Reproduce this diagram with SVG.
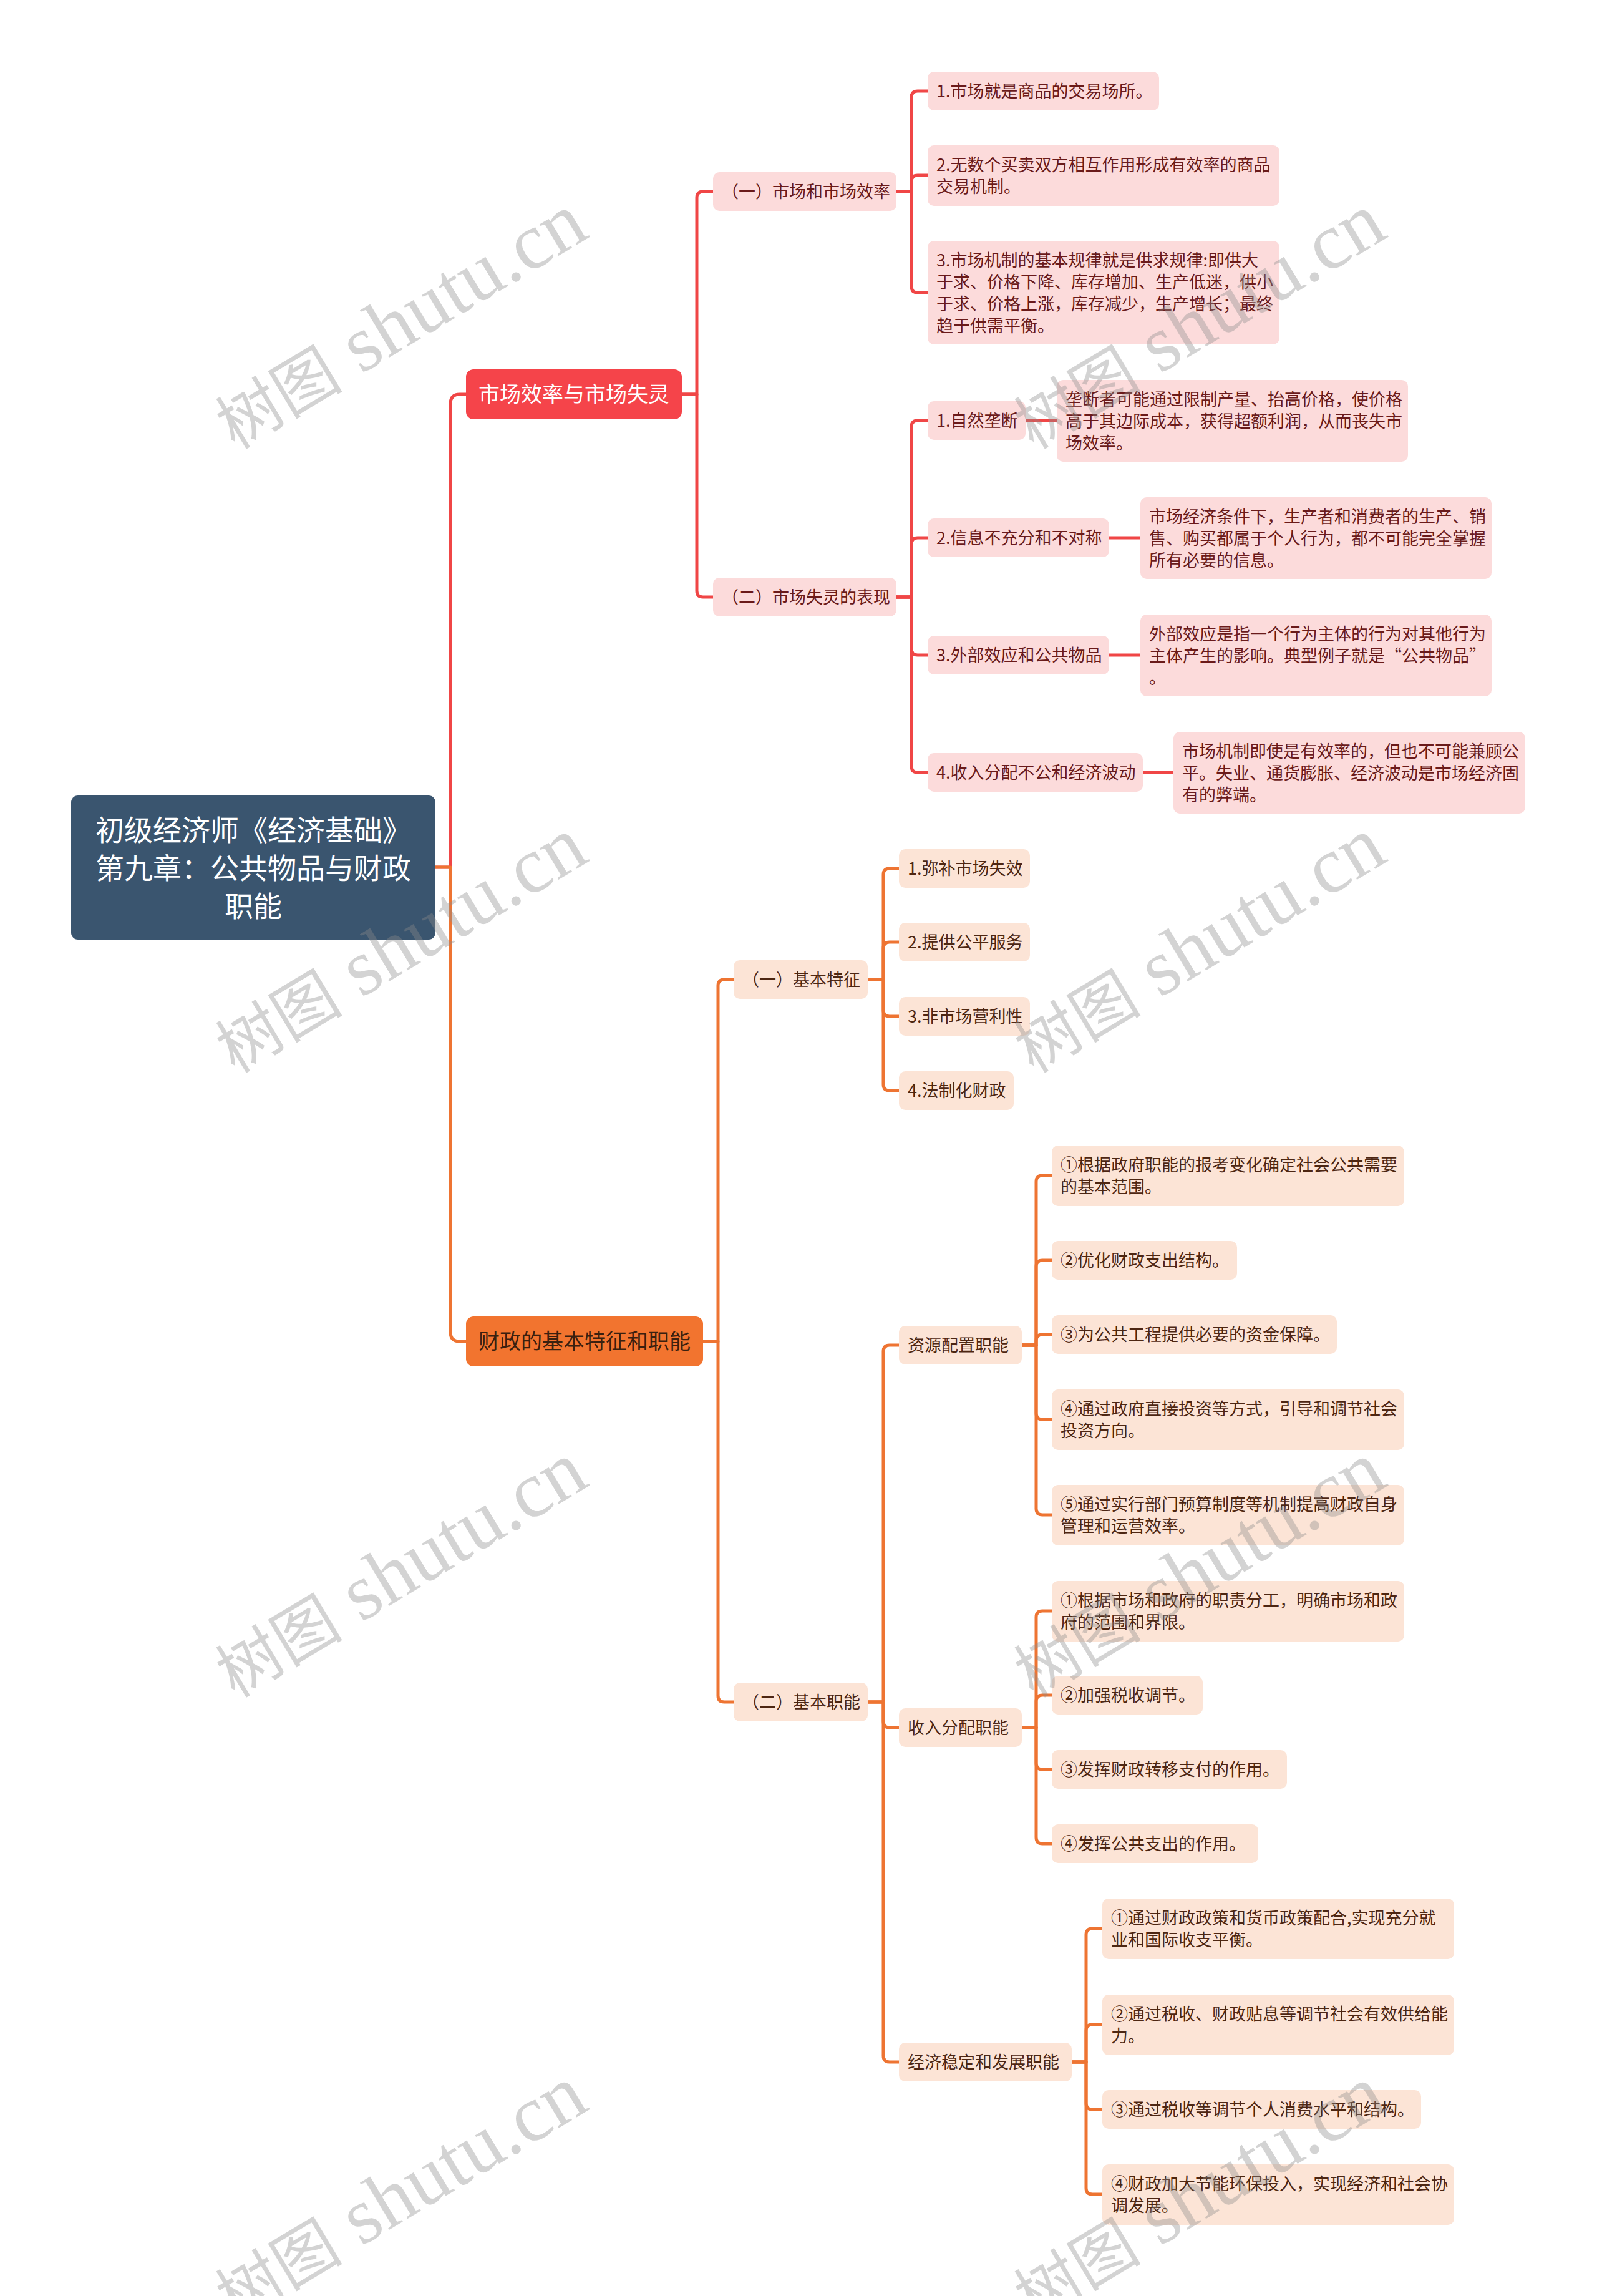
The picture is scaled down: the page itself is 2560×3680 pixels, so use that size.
<svg xmlns="http://www.w3.org/2000/svg" width="2560" height="3680" viewBox="0 0 2560 3680">
<style>
text{font-family:"Noto Sans CJK SC","Noto Sans",sans-serif}
.rc{fill:none;stroke:#F04646;stroke-width:5;stroke-linecap:round;stroke-linejoin:round}
.oc{fill:none;stroke:#EE7432;stroke-width:5;stroke-linecap:round;stroke-linejoin:round}
.main rect{fill:#3A556F}
.main text{fill:#ffffff;font-size:46px;text-anchor:middle}
.r1 rect{fill:#F5444A}
.r1 text{fill:#ffffff;font-size:34px;text-anchor:middle}
.o1 rect{fill:#F2742F}
.o1 text{fill:#3A200F;font-size:34px;text-anchor:middle}
.rl rect{fill:#FCDBDB}
.rl text{fill:#6A1A1A;font-size:27px}
.ol rect{fill:#FCE4D6}
.ol text{fill:#4D2612;font-size:27px}
.wm text{font-family:"Liberation Serif","Noto Sans CJK SC",serif;font-size:128px;fill:#8c8c8c;fill-opacity:0.38;text-anchor:middle}
.wm .cj{font-size:102px}
</style>
<rect width="2560" height="3680" fill="#ffffff"/>
<g id="connectors">
<path class="rc" d="M698,1390 H722 V647 Q722,632 737,632 H747"/>
<path class="oc" d="M698,1390 H722 V2135 Q722,2150 737,2150 H747"/>
<path class="rc" d="M1093,632 H1117 V317 Q1117,307 1127,307 H1143"/>
<path class="rc" d="M1093,632 H1117 V947 Q1117,957 1127,957 H1143"/>
<path class="rc" d="M1437,307 H1461 V156 Q1461,146 1471,146 H1487"/>
<path class="rc" d="M1437,307 H1461 V291 Q1461,281 1471,281 H1487"/>
<path class="rc" d="M1437,307 H1461 V459 Q1461,469 1471,469 H1487"/>
<path class="rc" d="M1437,957 H1461 V684 Q1461,674 1471,674 H1487"/>
<path class="rc" d="M1437,957 H1461 V872 Q1461,862 1471,862 H1487"/>
<path class="rc" d="M1437,957 H1461 V1040 Q1461,1050 1471,1050 H1487"/>
<path class="rc" d="M1437,957 H1461 V1228 Q1461,1238 1471,1238 H1487"/>
<path class="rc" d="M1644,674 H1694"/>
<path class="rc" d="M1778,862 H1828"/>
<path class="rc" d="M1778,1050 H1828"/>
<path class="rc" d="M1832,1238 H1881"/>
<path class="oc" d="M1127,2150 H1151 V1580 Q1151,1570 1161,1570 H1176"/>
<path class="oc" d="M1127,2150 H1151 V2718 Q1151,2728 1161,2728 H1176"/>
<path class="oc" d="M1391,1570 H1416 V1402 Q1416,1392 1426,1392 H1441"/>
<path class="oc" d="M1391,1570 H1416 V1520 Q1416,1510 1426,1510 H1441"/>
<path class="oc" d="M1391,1570 H1416 V1619 Q1416,1629 1426,1629 H1441"/>
<path class="oc" d="M1391,1570 H1416 V1738 Q1416,1748 1426,1748 H1441"/>
<path class="oc" d="M1391,2728 H1416 V2166 Q1416,2156 1426,2156 H1441"/>
<path class="oc" d="M1391,2728 H1416 V2759 Q1416,2769 1426,2769 H1441"/>
<path class="oc" d="M1391,2728 H1416 V3295 Q1416,3305 1426,3305 H1441"/>
<path class="oc" d="M1638,2156 H1661 V1894 Q1661,1884 1671,1884 H1686"/>
<path class="oc" d="M1638,2156 H1661 V2030 Q1661,2020 1671,2020 H1686"/>
<path class="oc" d="M1638,2156 H1661 V2149 Q1661,2139 1671,2139 H1686"/>
<path class="oc" d="M1638,2156 H1661 V2265 Q1661,2275 1671,2275 H1686"/>
<path class="oc" d="M1638,2156 H1661 V2418 Q1661,2428 1671,2428 H1686"/>
<path class="oc" d="M1638,2769 H1661 V2592 Q1661,2582 1671,2582 H1686"/>
<path class="oc" d="M1638,2769 H1661 V2727 Q1661,2717 1671,2717 H1686"/>
<path class="oc" d="M1638,2769 H1661 V2826 Q1661,2836 1671,2836 H1686"/>
<path class="oc" d="M1638,2769 H1661 V2945 Q1661,2955 1671,2955 H1686"/>
<path class="oc" d="M1718,3305 H1741 V3101 Q1741,3091 1751,3091 H1767"/>
<path class="oc" d="M1718,3305 H1741 V3255 Q1741,3245 1751,3245 H1767"/>
<path class="oc" d="M1718,3305 H1741 V3371 Q1741,3381 1751,3381 H1767"/>
<path class="oc" d="M1718,3305 H1741 V3507 Q1741,3517 1751,3517 H1767"/>
</g>
<g id="root" class="main">
<rect x="114" y="1275" width="584" height="231" rx="11"/>
<text x="406" y="1347">初级经济师《经济基础》</text>
<text x="406" y="1408">第九章：公共物品与财政</text>
<text x="406" y="1469">职能</text>
</g>
<g id="n-market" class="r1">
<rect x="747" y="592" width="346" height="80" rx="12"/>
<text x="920" y="644">市场效率与市场失灵</text>
</g>
<g id="n-finance" class="o1">
<rect x="747" y="2110" width="380" height="80" rx="12"/>
<text x="937" y="2162">财政的基本特征和职能</text>
</g>
<g id="n-r-a" class="rl">
<rect x="1143" y="276" width="294" height="62" rx="10"/>
<text x="1157" y="317">（一）市场和市场效率</text>
</g>
<g id="n-r-b" class="rl">
<rect x="1143" y="926" width="294" height="62" rx="10"/>
<text x="1157" y="967">（二）市场失灵的表现</text>
</g>
<g id="n-r-a1" class="rl">
<rect x="1487" y="115" width="371" height="62" rx="10"/>
<text x="1501" y="156">1.市场就是商品的交易场所。</text>
</g>
<g id="n-r-a2" class="rl">
<rect x="1487" y="233" width="564" height="97" rx="10"/>
<text x="1501" y="274">2.无数个买卖双方相互作用形成有效率的商品</text>
<text x="1501" y="309">交易机制。</text>
</g>
<g id="n-r-a3" class="rl">
<rect x="1487" y="386" width="564" height="166" rx="10"/>
<text x="1501" y="427">3.市场机制的基本规律就是供求规律:即供大</text>
<text x="1501" y="462">于求、价格下降、库存增加、生产低迷，供小</text>
<text x="1501" y="497">于求、价格上涨，库存减少，生产增长；最终</text>
<text x="1501" y="532">趋于供需平衡。</text>
</g>
<g id="n-r-b1" class="rl">
<rect x="1487" y="643" width="157" height="62" rx="10"/>
<text x="1501" y="684">1.自然垄断</text>
</g>
<g id="n-r-b1d" class="rl">
<rect x="1694" y="609" width="563" height="131" rx="10"/>
<text x="1708" y="650">垄断者可能通过限制产量、抬高价格，使价格</text>
<text x="1708" y="685">高于其边际成本，获得超额利润，从而丧失市</text>
<text x="1708" y="720">场效率。</text>
</g>
<g id="n-r-b2" class="rl">
<rect x="1487" y="831" width="291" height="62" rx="10"/>
<text x="1501" y="872">2.信息不充分和不对称</text>
</g>
<g id="n-r-b2d" class="rl">
<rect x="1828" y="797" width="563" height="131" rx="10"/>
<text x="1842" y="838">市场经济条件下，生产者和消费者的生产、销</text>
<text x="1842" y="873">售、购买都属于个人行为，都不可能完全掌握</text>
<text x="1842" y="908">所有必要的信息。</text>
</g>
<g id="n-r-b3" class="rl">
<rect x="1487" y="1019" width="291" height="62" rx="10"/>
<text x="1501" y="1060">3.外部效应和公共物品</text>
</g>
<g id="n-r-b3d" class="rl">
<rect x="1828" y="985" width="563" height="131" rx="10"/>
<text x="1842" y="1026">外部效应是指一个行为主体的行为对其他行为</text>
<text x="1842" y="1061">主体产生的影响。典型例子就是“公共物品”</text>
<text x="1842" y="1096">。</text>
</g>
<g id="n-r-b4" class="rl">
<rect x="1487" y="1207" width="345" height="62" rx="10"/>
<text x="1501" y="1248">4.收入分配不公和经济波动</text>
</g>
<g id="n-r-b4d" class="rl">
<rect x="1881" y="1173" width="564" height="131" rx="10"/>
<text x="1895" y="1214">市场机制即使是有效率的，但也不可能兼顾公</text>
<text x="1895" y="1249">平。失业、通货膨胀、经济波动是市场经济固</text>
<text x="1895" y="1284">有的弊端。</text>
</g>
<g id="n-o-a" class="ol">
<rect x="1176" y="1539" width="215" height="62" rx="10"/>
<text x="1190" y="1580">（一）基本特征</text>
</g>
<g id="n-o-a1" class="ol">
<rect x="1441" y="1361" width="210" height="62" rx="10"/>
<text x="1455" y="1402">1.弥补市场失效</text>
</g>
<g id="n-o-a2" class="ol">
<rect x="1441" y="1479" width="210" height="62" rx="10"/>
<text x="1455" y="1520">2.提供公平服务</text>
</g>
<g id="n-o-a3" class="ol">
<rect x="1441" y="1598" width="210" height="62" rx="10"/>
<text x="1455" y="1639">3.非市场营利性</text>
</g>
<g id="n-o-a4" class="ol">
<rect x="1441" y="1717" width="184" height="62" rx="10"/>
<text x="1455" y="1758">4.法制化财政</text>
</g>
<g id="n-o-b" class="ol">
<rect x="1176" y="2697" width="215" height="62" rx="10"/>
<text x="1190" y="2738">（二）基本职能</text>
</g>
<g id="n-o-b1" class="ol">
<rect x="1441" y="2125" width="197" height="62" rx="10"/>
<text x="1455" y="2166">资源配置职能</text>
</g>
<g id="n-o-b1-1" class="ol">
<rect x="1686" y="1836" width="565" height="97" rx="10"/>
<text x="1700" y="1877">①根据政府职能的报考变化确定社会公共需要</text>
<text x="1700" y="1912">的基本范围。</text>
</g>
<g id="n-o-b1-2" class="ol">
<rect x="1686" y="1989" width="297" height="62" rx="10"/>
<text x="1700" y="2030">②优化财政支出结构。</text>
</g>
<g id="n-o-b1-3" class="ol">
<rect x="1686" y="2108" width="457" height="62" rx="10"/>
<text x="1700" y="2149">③为公共工程提供必要的资金保障。</text>
</g>
<g id="n-o-b1-4" class="ol">
<rect x="1686" y="2227" width="565" height="97" rx="10"/>
<text x="1700" y="2268">④通过政府直接投资等方式，引导和调节社会</text>
<text x="1700" y="2303">投资方向。</text>
</g>
<g id="n-o-b1-5" class="ol">
<rect x="1686" y="2380" width="565" height="97" rx="10"/>
<text x="1700" y="2421">⑤通过实行部门预算制度等机制提高财政自身</text>
<text x="1700" y="2456">管理和运营效率。</text>
</g>
<g id="n-o-b2" class="ol">
<rect x="1441" y="2738" width="197" height="62" rx="10"/>
<text x="1455" y="2779">收入分配职能</text>
</g>
<g id="n-o-b2-1" class="ol">
<rect x="1686" y="2534" width="565" height="97" rx="10"/>
<text x="1700" y="2575">①根据市场和政府的职责分工，明确市场和政</text>
<text x="1700" y="2610">府的范围和界限。</text>
</g>
<g id="n-o-b2-2" class="ol">
<rect x="1686" y="2686" width="242" height="62" rx="10"/>
<text x="1700" y="2727">②加强税收调节。</text>
</g>
<g id="n-o-b2-3" class="ol">
<rect x="1686" y="2805" width="377" height="62" rx="10"/>
<text x="1700" y="2846">③发挥财政转移支付的作用。</text>
</g>
<g id="n-o-b2-4" class="ol">
<rect x="1686" y="2924" width="331" height="62" rx="10"/>
<text x="1700" y="2965">④发挥公共支出的作用。</text>
</g>
<g id="n-o-b3" class="ol">
<rect x="1441" y="3274" width="277" height="62" rx="10"/>
<text x="1455" y="3315">经济稳定和发展职能</text>
</g>
<g id="n-o-b3-1" class="ol">
<rect x="1767" y="3043" width="564" height="97" rx="10"/>
<text x="1781" y="3084">①通过财政政策和货币政策配合,实现充分就</text>
<text x="1781" y="3119">业和国际收支平衡。</text>
</g>
<g id="n-o-b3-2" class="ol">
<rect x="1767" y="3197" width="564" height="97" rx="10"/>
<text x="1781" y="3238">②通过税收、财政贴息等调节社会有效供给能</text>
<text x="1781" y="3273">力。</text>
</g>
<g id="n-o-b3-3" class="ol">
<rect x="1767" y="3350" width="511" height="62" rx="10"/>
<text x="1781" y="3391">③通过税收等调节个人消费水平和结构。</text>
</g>
<g id="n-o-b3-4" class="ol">
<rect x="1767" y="3469" width="564" height="97" rx="10"/>
<text x="1781" y="3510">④财政加大节能环保投入，实现经济和社会协</text>
<text x="1781" y="3545">调发展。</text>
</g>
<g id="watermarks" class="wm">
<text transform="translate(662,550) rotate(-31)"><tspan class="cj">树图</tspan> shutu.cn</text>
<text transform="translate(1942,550) rotate(-31)"><tspan class="cj">树图</tspan> shutu.cn</text>
<text transform="translate(662,1550) rotate(-31)"><tspan class="cj">树图</tspan> shutu.cn</text>
<text transform="translate(1942,1550) rotate(-31)"><tspan class="cj">树图</tspan> shutu.cn</text>
<text transform="translate(662,2551) rotate(-31)"><tspan class="cj">树图</tspan> shutu.cn</text>
<text transform="translate(1942,2551) rotate(-31)"><tspan class="cj">树图</tspan> shutu.cn</text>
<text transform="translate(662,3551) rotate(-31)"><tspan class="cj">树图</tspan> shutu.cn</text>
<text transform="translate(1942,3551) rotate(-31)"><tspan class="cj">树图</tspan> shutu.cn</text>
</g>
</svg>
